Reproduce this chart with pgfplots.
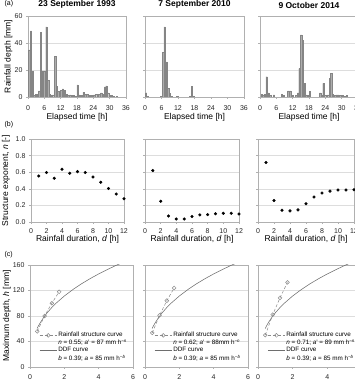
\documentclass[border=0pt]{standalone}
\usepackage{pgfplots}
\pgfplotsset{compat=1.18}
\usepackage{fontspec}
\setmainfont{Liberation Sans}

\definecolor{barfill}{HTML}{ADADAD}
\definecolor{baredge}{HTML}{858585}
\definecolor{gridgray}{HTML}{DDDDDD}
\definecolor{framegray}{HTML}{B0B0B0}
\definecolor{ddf}{HTML}{6E6E6E}
\definecolor{rsc}{HTML}{8A8A8A}
\definecolor{rscfill}{HTML}{D6D6D6}

\pgfplotsset{
  base/.style={
    scale only axis, anchor=south west,
    /pgf/number format/assume math mode=true,
    axis line style={framegray, line width=0.5pt},
    tick style={framegray, line width=0.4pt},
    ymajorgrids, grid style={gridgray, line width=0.4pt},
    tick label style={font=\fontsize{7}{8}\selectfont, text=black!85},
    label style={font=\fontsize{8.5}{10}\selectfont},
    title style={font=\bfseries\fontsize{8.5}{10}\selectfont, at={(0.5,1)}, anchor=south, inner sep=1.5pt},
    xtick pos=bottom, ytick pos=left, tick align=outside,
    major tick length=2pt,
    clip=true,
  },
  rowa/.style={base, width=98pt, height=81pt,
    xmin=0, xmax=36, ymin=0, ymax=60,
    xtick={0,6,...,36}, ytick={0,20,40,60},
    xticklabel shift=3pt,
    xlabel={Elapsed time [h]},
    xlabel style={at={(axis description cs:0.5,-0.247)}, anchor=center},
  },
  rowb/.style={base, width=94pt, height=83pt,
    xmin=0, xmax=12, ymin=0, ymax=1,
    xtick={0,2,...,12}, ytick={0,0.2,...,1.0},
    yticklabel style={/pgf/number format/.cd, fixed, fixed zerofill, precision=1},
    xticklabel shift=1pt,
    xlabel={Rainfall duration, \textit{d} [h]},
    xlabel style={at={(axis description cs:0.5,-0.21)}, anchor=center},
  },
  rowc/.style={base, width=103pt, height=102pt,
    xmin=0, xmax=6, ymin=0, ymax=160,
    xtick={0,2,4,6}, ytick={0,40,...,160},
    xticklabel shift=2pt,
    legend cell align=left,
    legend style={at={(axis description cs:0.09,0.035)}, anchor=south west,
      draw=none, fill=none, inner sep=0pt,
      font=\fontsize{6.3}{7.2}\selectfont, row sep=-1pt,
      nodes={inner sep=1.2pt}},
  },
  bars/.style={ybar, bar width=0.5, draw=baredge, fill=barfill, line width=0.3pt},
  npts/.style={only marks, mark=*, mark size=1.35pt, black},
  rscline/.style={rsc, densely dashed, line width=0.5pt, mark=o,
    mark size=1.9pt, mark options={solid, fill=rscfill, draw=rsc, line width=0.5pt}},
  ddfline/.style={ddf, line width=0.55pt},
}

\begin{document}
\begin{tikzpicture}

% ---------------- (a) hyetographs ----------------
\begin{axis}[rowa, at={(28pt,284pt)}, width=98pt,
  title={23 September 1993},
  ylabel={Rainfall depth [mm]},
  ylabel style={at={(axis description cs:-0.199,0.5)}, anchor=center}]
\addplot[bars] coordinates {
 (0.43,35) (1.09,49) (1.7,19) (2.3,1) (2.9,2) (3.5,2) (4.08,4.5)
 (4.74,48) (5.35,19) (5.96,19) (6.75,52) (7.42,12.5) (8.0,2) (8.6,1)
 (9.2,1.5) (9.97,30) (10.6,8) (11.1,4) (11.7,2) (12.2,5) (12.8,6)
 (13.5,5) (14.2,2) (14.8,1) (15.5,1.5) (16.1,1) (16.8,1) (17.5,0.5)
 (18.2,9) (18.9,1.5) (19.6,1) (20.4,3.5) (21.0,2) (21.7,2) (22.3,1)
 (23.0,1) (23.7,1) (24.3,1.5) (25.0,2) (25.6,1.5) (26.2,2) (26.9,3)
 (27.5,2) (28.2,7.5) (28.8,8.3) (29.4,3) (30.1,1) (30.7,1) (31.4,0.5)
 (32.5,0.3)
};
\end{axis}

\begin{axis}[rowa, at={(145pt,284pt)}, width=99pt,
  title={7 September 2010}, yticklabels={}]
\addplot[bars] coordinates {
 (0.3,3.2) (0.9,0.5) (5.9,0.7) (6.55,33) (7.15,52) (7.8,26) (8.4,6.5)
 (9.05,2.5) (9.65,0.7) (11.7,0.3) (16.4,0.5) (17.0,8) (17.6,0.6)
};
\end{axis}

\begin{axis}[rowa, at={(260pt,284pt)}, width=98pt,
  title={9 October 2014}, yticklabels={}]
\addplot[bars] coordinates {
 (0.6,2) (1.2,1.5) (1.8,2) (2.45,15) (3.06,3) (3.7,1) (5.1,1.5)
 (8.0,2) (8.6,1) (10.4,4.5) (11.1,4.5) (11.9,1) (13.3,1) (13.85,3)
 (14.45,21) (15.1,46) (15.7,42) (16.3,10) (16.9,1.5) (17.5,1)
 (18.3,4) (22.1,3) (22.7,1) (23.3,10) (23.9,1) (25.0,1.5) (25.6,14)
 (26.2,17.5) (26.8,2) (27.6,1) (28.2,1.5) (28.8,1.5) (29.5,1.3)
 (30.3,1) (31.0,0.5) (31.9,1)
};
\end{axis}

% ---------------- (b) structure exponent ----------------
\begin{axis}[rowb, at={(31pt,159pt)}, width=93pt,
  ylabel={Structure exponent, \textit{n} [-]},
  ylabel style={at={(axis description cs:-0.269,0.5)}, anchor=center}]
\addplot[npts] coordinates {
 (1,0.555) (2,0.595) (3,0.527) (4,0.636) (5,0.587) (6,0.607)
 (7,0.595) (8,0.543) (9,0.478) (10,0.405) (11,0.336) (12,0.28)
};
\end{axis}

\begin{axis}[rowb, at={(145pt,159pt)}, width=94pt, yticklabels={}]
\addplot[npts] coordinates {
 (1,0.62) (2,0.25) (3,0.073) (4,0.036) (5,0.036) (6,0.065)
 (7,0.085) (8,0.089) (9,0.10) (10,0.105) (11,0.105) (12,0.097)
};
\end{axis}

\begin{axis}[rowb, at={(258pt,159pt)}, width=96pt, yticklabels={}]
\addplot[npts] coordinates {
 (1,0.717) (2,0.26) (3,0.142) (4,0.134) (5,0.146) (6,0.219)
 (7,0.30) (8,0.348) (9,0.372) (10,0.385) (11,0.385) (12,0.389)
};
\end{axis}

% ---------------- (c) depth-duration ----------------
\begin{axis}[rowc, at={(30pt,14pt)},
  ylabel={Maximum depth, \textit{h} [mm]},
  ylabel style={at={(axis description cs:-0.223,0.5)}, anchor=center}]
\addlegendimage{rscline}
\addlegendentry{Rainfall structure curve}
\addlegendimage{empty legend}
\addlegendentry{\textit{n} = 0.55; \textit{a}' = 87 mm h\textsuperscript{\textit{−n}}}
\addlegendimage{ddfline}
\addlegendentry{DDF curve}
\addlegendimage{empty legend}
\addlegendentry{\textit{b} = 0.39; \textit{a} = 85 mm h\textsuperscript{\textit{−b}}}
\addplot[ddfline, forget plot] coordinates {
 (0.4167,60.4) (0.5,64.9) (0.6,69.6) (0.8,77.9) (1.0,85.0) (1.25,92.7)
 (1.5,99.6) (2.0,111.4) (2.5,121.5) (3.0,130.5) (3.5,138.6) (4.0,146.0)
 (4.5,152.8) (5.0,159.2) (5.5,165.3)
};
\addplot[rscline, forget plot] coordinates {
 (0.42,56) (0.85,80) (1.27,100) (1.7,118)
};
\end{axis}

\begin{axis}[rowc, at={(145pt,14pt)}, yticklabels={}]
\addlegendimage{rscline}
\addlegendentry{Rainfall structure curve}
\addlegendimage{empty legend}
\addlegendentry{\textit{n} = 0.62; \textit{a}' = 88mm h\textsuperscript{\textit{−n}}}
\addlegendimage{ddfline}
\addlegendentry{DDF curve}
\addlegendimage{empty legend}
\addlegendentry{\textit{b} = 0.39; \textit{a} = 85 mm h\textsuperscript{\textit{−b}}}
\addplot[ddfline, forget plot] coordinates {
 (0.4167,60.4) (0.5,64.9) (0.6,69.6) (0.8,77.9) (1.0,85.0) (1.25,92.7)
 (1.5,99.6) (2.0,111.4) (2.5,121.5) (3.0,130.5) (3.5,138.6) (4.0,146.0)
 (4.5,152.8) (5.0,159.2) (5.5,165.3)
};
\addplot[rscline, forget plot] coordinates {
 (0.42,53.5) (0.85,81) (1.27,104) (1.7,124)
};
\end{axis}

\begin{axis}[rowc, at={(258pt,14pt)}, width=104pt, yticklabels={}]
\addlegendimage{rscline}
\addlegendentry{Rainfall structure curve}
\addlegendimage{empty legend}
\addlegendentry{\textit{n} = 0.71; \textit{a}' = 89 mm h\textsuperscript{\textit{−n}}}
\addlegendimage{ddfline}
\addlegendentry{DDF curve}
\addlegendimage{empty legend}
\addlegendentry{\textit{b} = 0.39; \textit{a} = 85 mm h\textsuperscript{\textit{−b}}}
\addplot[ddfline, forget plot] coordinates {
 (0.4167,60.4) (0.5,64.9) (0.6,69.6) (0.8,77.9) (1.0,85.0) (1.25,92.7)
 (1.5,99.6) (2.0,111.4) (2.5,121.5) (3.0,130.5) (3.5,138.6) (4.0,146.0)
 (4.5,152.8) (5.0,159.2) (5.5,165.3)
};
\addplot[rscline, forget plot] coordinates {
 (0.42,50) (0.85,82) (1.27,108.6) (1.7,132.7)
};
\end{axis}

% panel letters
\node[anchor=west, font=\fontsize{7}{8}\selectfont] at (1pt,377pt) {(a)};
\node[anchor=west, font=\fontsize{7}{8}\selectfont] at (1pt,256pt) {(b)};
\node[anchor=west, font=\fontsize{7}{8}\selectfont] at (1pt,126pt) {(c)};

\pgfresetboundingbox
\useasboundingbox (0pt,0pt) rectangle (355pt,381pt);
\end{tikzpicture}
\end{document}
